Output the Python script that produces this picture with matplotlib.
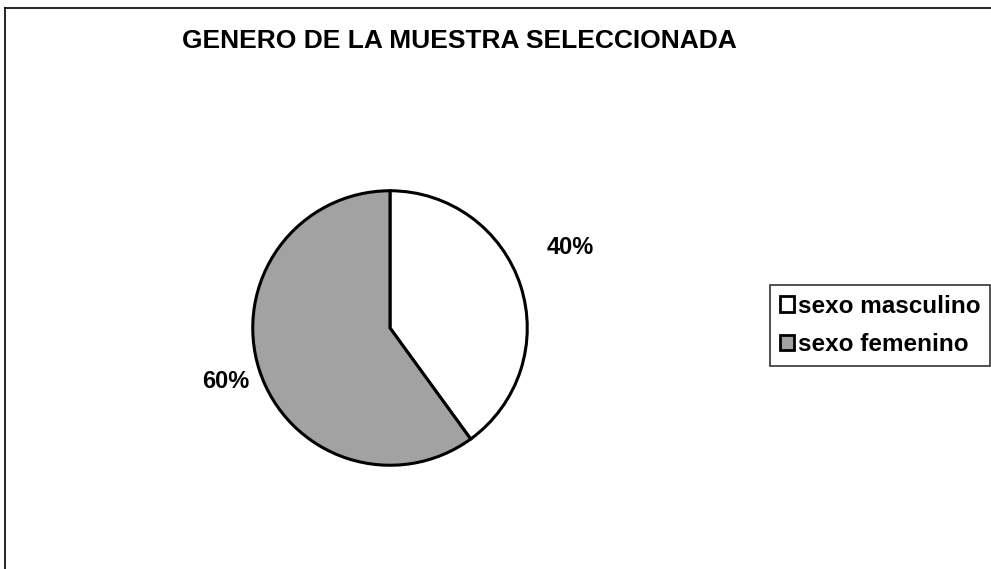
import matplotlib
matplotlib.use('Agg')
import matplotlib.pyplot as plt
from matplotlib.lines import Line2D

plt.rcParams['font.family'] = ['Liberation Sans', 'DejaVu Sans']

# ── Data ──────────────────────────────────────────────────────────────────
categories = ['sexo masculino', 'sexo femenino']
values = [40, 60]
colors = ['white', '#a2a2a2']
title = 'GENERO DE LA MUESTRA SELECCIONADA'

W, H = 991, 569
fig = plt.figure(figsize=(W / 100, H / 100), dpi=100)

# chart area frame (only top/left visible in the scan)
fig.add_artist(Line2D([5 / W, 5 / W], [0, 1 - 8 / H], color='black', lw=1.2, transform=fig.transFigure))
fig.add_artist(Line2D([5 / W, 1], [1 - 8 / H, 1 - 8 / H], color='black', lw=1.2, transform=fig.transFigure))

fig.text(459 / W, 1 - 41 / H, title, ha='center', va='center',
         fontsize=19, fontweight='bold')

# pie: centre (390, 328) px, radius 140 px
cx, cy, r = 390, 328, 140
ax = fig.add_axes([(cx - r) / W, (H - cy - r) / H, 2 * r / W, 2 * r / H])
wedges, texts = ax.pie(values, colors=colors, startangle=90, counterclock=False,
                       labels=[f'{v}%' for v in values],
                       wedgeprops=dict(edgecolor='black', linewidth=2.2),
                       textprops=dict(fontsize=17, fontweight='bold'))
# nudge labels to where the original puts them
texts[0].set_position((1.31, 0.59))
texts[1].set_position((-1.20, -0.39))
for t in texts:
    t.set_ha('center')
    t.set_va('center')
ax.set_xlim(-1.02, 1.02)
ax.set_ylim(-1.02, 1.02)
ax.set_aspect('equal')
ax.axis('off')

leg = fig.legend(wedges, categories, loc='upper left',
                 bbox_to_anchor=(770 / W, 1 - 285 / H),
                 prop=dict(weight='bold', size=17.5),
                 frameon=True, fancybox=False, edgecolor='black',
                 handlelength=0.6, handleheight=0.6, handletextpad=0.15,
                 borderpad=0.4, labelspacing=0.62, borderaxespad=0)
leg.get_frame().set_linewidth(1.2)
for h in leg.legend_handles:
    h.set_linewidth(2.0)

fig.savefig('out.png', dpi=100)
